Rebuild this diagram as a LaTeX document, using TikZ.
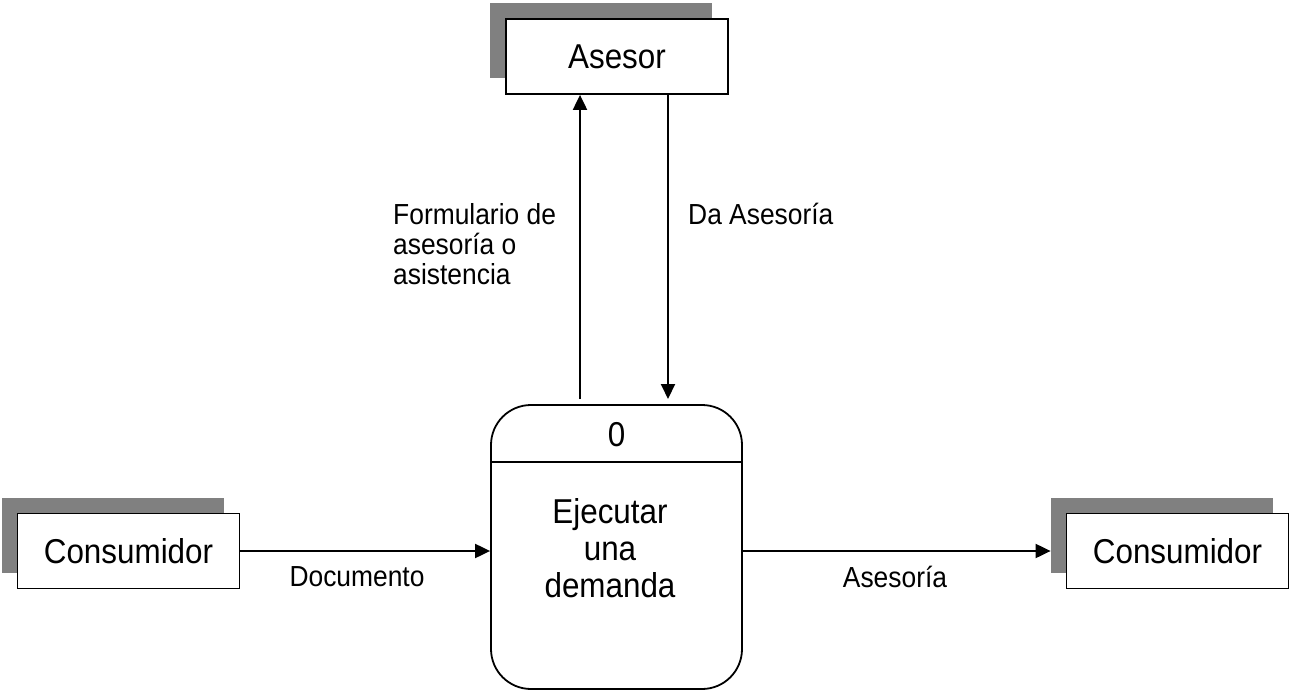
\documentclass[tikz,border=0pt]{standalone}
\usepackage{fontspec}
\setmainfont[FakeStretch=0.91]{Liberation Sans}
\usetikzlibrary{calc,shadows,arrows.meta}

\newcommand{\bigtxt}{\fontsize{34.5}{36.7}\selectfont}
\newcommand{\smalltxt}{\fontsize{29}{30}\selectfont}

\begin{document}
\begin{tikzpicture}[x=1pt,y=-1pt,
        entity/.style={draw, fill=white, line width=1.8pt, minimum width=222pt,
            minimum height=75pt, inner sep=0pt, font=\bigtxt,
            general shadow={fill=black!50, shadow xshift=-16pt, shadow yshift=16pt}},
        procbox/.style={draw, line width=1.8pt, rounded corners=40pt,
            minimum width=251pt, minimum height=284pt},
        flow/.style={line width=2pt, -{Triangle[length=15pt,width=14pt]}},
        lbl/.style={font=\smalltxt, inner sep=0pt}]

        \useasboundingbox (0,0) rectangle (1289,692);

        % externe entiteiten
        \node[entity] (asesor) at (617,56.5) {Asesor};
        \node[entity] (consin) at (128.5,551) {Consumidor};
        \node[entity] (consout) at (1177.5,551) {Consumidor};

        % proces 0
        \node[procbox] (proc) at (616.5,547) {};
        \draw[line width=1.8pt] (proc.west |- 0,462) -- (proc.east |- 0,462);
        \node[font=\bigtxt] (procid) at (616.5,435) {0};
        \node[font=\bigtxt, align=center] (proctext) at (610,548) {Ejecutar\\una\\demanda};

        % flujos
        \coordinate (formout) at (580,399);
        \coordinate (advin) at (668,399);
        \draw[flow] (formout) -- (formout |- asesor.south);
        \draw[flow] (advin |- asesor.south) -- (advin);
        \draw[flow] (consin.east) -- (consin.east -| proc.west);
        \draw[flow] (proc.east |- consout.west) -- ($(consout.west)+(-15,0)$);

        \node[lbl, anchor=north west, align=left] (formlbl) at (393,203) {Formulario de\\asesoría o\\asistencia};
        \node[lbl, anchor=north west] (advlbl) at (688,203) {Da Asesoría};
        \node[lbl] (doclbl) at (357,577) {Documento};
        \node[lbl] (asslbl) at (895,577) {Asesoría};

\end{tikzpicture}
\end{document}
